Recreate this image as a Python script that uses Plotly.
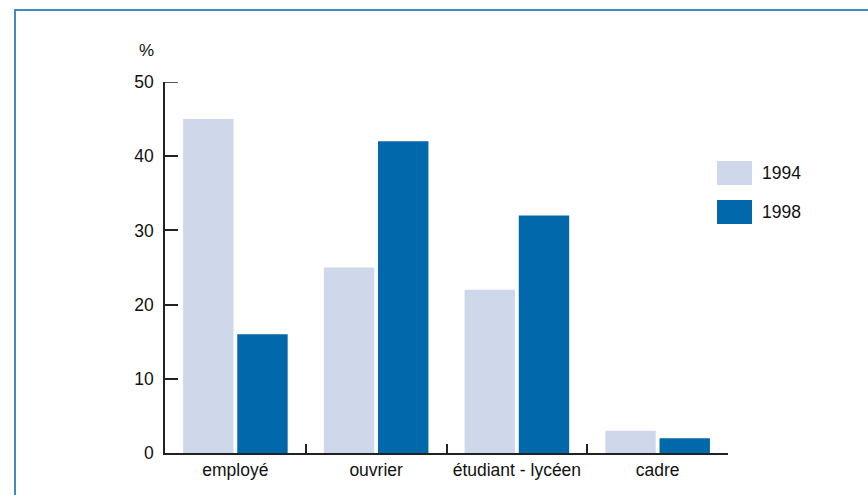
import plotly.graph_objects as go

categories = ["employé", "ouvrier", "étudiant - lycéen", "cadre"]
years = ["1994", "1998"]
values_1994 = [45, 25, 22, 3]
values_1998 = [16, 42, 32, 2]
y_ticks = [0, 10, 20, 30, 40, 50]

colors = ["#cfd8ea", "#0068ab"]
font = "Liberation Sans, Arial, sans-serif"
ink = "#222"

W, H = 868, 495
L, R, T, B = 165, 140, 82, 42
pw, ph = W - L - R, H - T - B


def px_x(x):
    return (x - L) / pw


def px_y(y):
    return (H - B - y) / ph


fig = go.Figure()
for name, vals, col in zip(years, [values_1994, values_1998], colors):
    fig.add_trace(go.Bar(x=categories, y=vals, name=name, marker_color=col,
                         marker_line_width=0, showlegend=False))

# legend swatches and labels
for i, (name, col) in enumerate(zip(years, colors)):
    y0 = 161 + i * 39
    fig.add_shape(type="rect", xref="paper", yref="paper",
                  x0=px_x(717), x1=px_x(752), y0=px_y(y0 + 24), y1=px_y(y0),
                  fillcolor=col, line_width=0)
    fig.add_annotation(xref="paper", yref="paper", x=px_x(760), y=px_y(y0 + 12),
                       text=name, showarrow=False, xanchor="left", yanchor="middle",
                       font=dict(family=font, size=17.5, color="#111"))

# frame line on the left and top edges
fig.add_shape(type="rect", xref="paper", yref="paper",
              x0=px_x(15), x1=px_x(W + 10), y0=px_y(H + 10), y1=px_y(10),
              line=dict(color="#3d8cc6", width=2), fillcolor="rgba(0,0,0,0)", layer="below")

# plotly drops the inside tick at the top end of the range; draw it explicitly
fig.add_shape(type="line", xref="paper", yref="y", x0=0, x1=13 / pw,
              y0=y_ticks[-1], y1=y_ticks[-1], line=dict(color=ink, width=1.5))

fig.add_annotation(xref="paper", yref="paper", x=px_x(146), y=px_y(50),
                   text="%", showarrow=False, xanchor="center", yanchor="middle",
                   font=dict(family=font, size=17, color="#111"))

fig.update_layout(
    width=W, height=H,
    margin=dict(l=L, r=R, t=T, b=B, pad=0),
    paper_bgcolor="white", plot_bgcolor="white",
    barmode="group", bargap=0.23, bargroupgap=0.07,
    font=dict(family=font, size=17.5, color="#111"),
)
fig.update_xaxes(showline=True, linecolor=ink, linewidth=1.5, automargin=False,
                 tickangle=0, ticks="inside", tickson="boundaries", ticklen=9,
                 tickcolor=ink, tickwidth=1.5, showgrid=False, zeroline=False,
                 tickfont=dict(family=font, size=17.5, color="#111"))
fig.update_yaxes(range=[0, 50], tickvals=y_ticks, showline=True, linecolor=ink,
                 linewidth=1.5, automargin=False, ticks="inside", ticklen=13,
                 tickcolor=ink, tickwidth=1.5, showgrid=False, zeroline=False,
                 ticklabelstandoff=6,
                 tickfont=dict(family=font, size=17.5, color="#111"))

fig.write_html("out.html")
